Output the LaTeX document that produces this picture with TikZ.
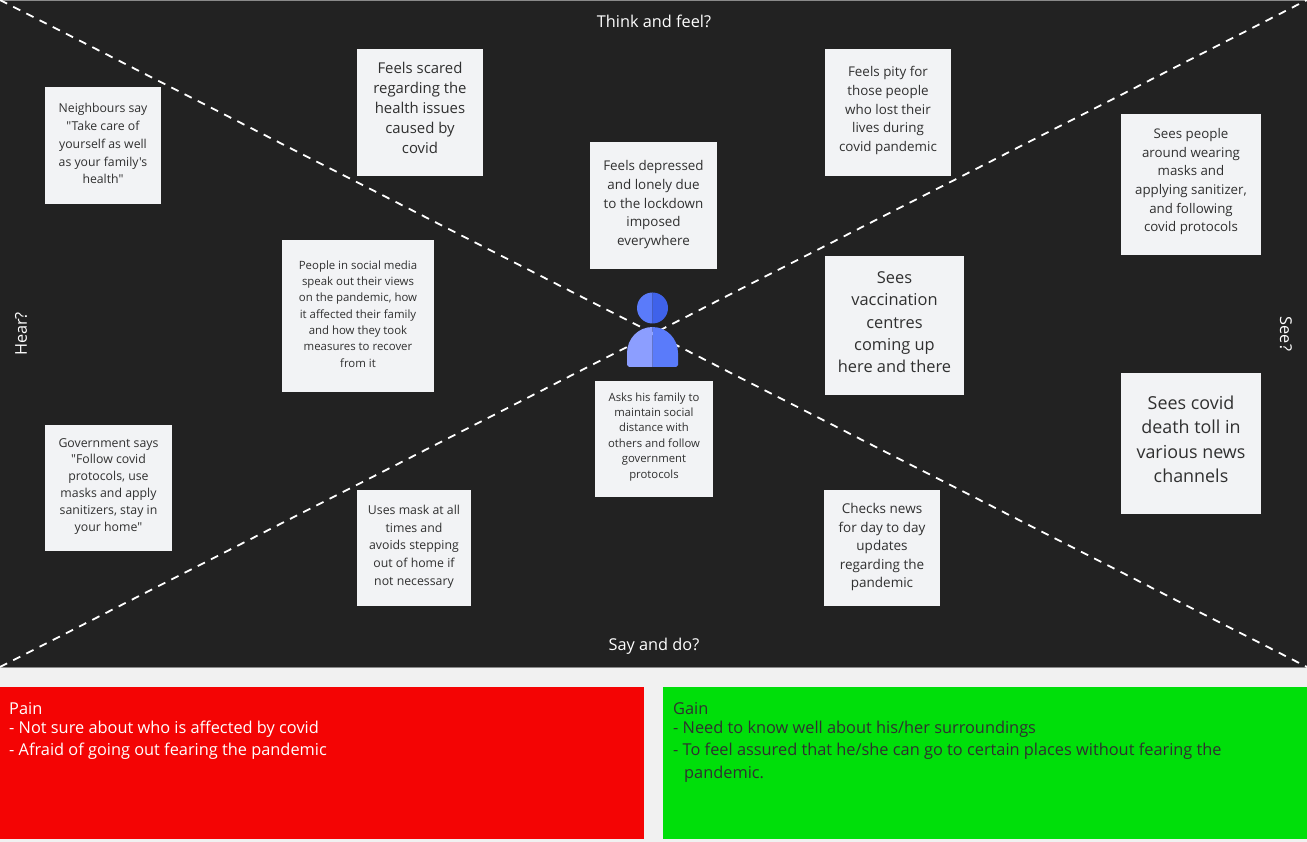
\documentclass[tikz,border=0pt]{standalone}
\usepackage{fontspec}
\setmainfont{Open Sans}[Ligatures=TeXOff]
\definecolor{board}{HTML}{222222}
\definecolor{edge}{HTML}{8A8A8A}
\definecolor{page}{HTML}{F1F1F1}
\definecolor{note}{HTML}{F2F3F5}
\definecolor{notetext}{HTML}{303030}
\definecolor{painred}{HTML}{F40404}
\definecolor{gaingreen}{HTML}{00DF0A}
\definecolor{headl}{HTML}{5A7BFA}
\definecolor{headr}{HTML}{3F62EA}
\definecolor{bodyl}{HTML}{8C9EFF}
\definecolor{bodyr}{HTML}{5A7BFA}
\tikzset{
  sticky/.style={fill=note,text=notetext,align=center,inner sep=0pt,anchor=center},
  fs/.style 2 args={font=\fontsize{#1}{#2}\selectfont},
  axislabel/.style={text=white,font=\fontsize{16.3}{18}\selectfont,inner sep=0pt},
  diag/.style={white,line width=1.8pt,dash pattern=on 8pt off 6.8pt},
  banner/.style={anchor=north west,align=left,inner sep=0pt,font=\fontsize{16.35}{22.5}\selectfont},
}
\begin{document}
\begin{tikzpicture}[x=1pt,y=-1pt]
\useasboundingbox (0,0) rectangle (1307,842);
\fill[page] (0,0) rectangle (1307,842);
\filldraw[fill=board,draw=edge,line width=0.8pt] (-1,0) rectangle (1308,667);
\coordinate (tl) at (0,0);
\coordinate (tr) at (1307,0);
\coordinate (bl) at (0,667);
\coordinate (br) at (1307,667);
\draw[diag] (tl) -- (br);
\draw[diag] (bl) -- (tr);

\node[axislabel] (think) at (654,21) {Think and feel?};
\node[axislabel] (say) at (654,646.5) {Say and do?};
\node[axislabel,rotate=90] (hear) at (21,334) {Hear?};
\node[axislabel,rotate=-90] (see) at (1286,334) {See?};

% person
\fill[headl] (652.5,323.5) arc[start angle=90,end angle=270,radius=15.5] -- cycle;
\fill[headr] (652.5,323.5) arc[start angle=90,end angle=-90,radius=15.5] -- cycle;
\fill[bodyl] (652.5,327) .. controls (638,327) and (627,339) .. (627,353) -- (627,365) -- (629,367) -- (652.5,367) -- cycle;
\fill[bodyr] (652.5,327) .. controls (667,327) and (678,339) .. (678,353) -- (678,365) -- (676,367) -- (652.5,367) -- cycle;

% sticky notes
\node[sticky,fs={12.25}{17.7},minimum width=116pt,minimum height=117pt] (n1) at (103,145.5) {Neighbours say\\"Take care of\\yourself as well\\as your family's\\health"\\[-14pt]};
\node[sticky,fs={14.9}{20},minimum width=126pt,minimum height=127pt] (n2) at (420,112.5) {Feels scared\\regarding the\\health issues\\caused by\\covid\\[-10pt]};
\node[sticky,fs={13.4}{18.7},minimum width=126pt,minimum height=127pt] (n3) at (888,112.5) {Feels pity for\\those people\\who lost their\\lives during\\covid pandemic\\[-12pt]};
\node[sticky,fs={13.4}{18.8},minimum width=127pt,minimum height=127pt] (n4) at (653.5,205.5) {Feels depressed\\and lonely due\\to the lockdown\\imposed\\everywhere\\[-14pt]};
\node[sticky,fs={13.3}{18.6},minimum width=140pt,minimum height=141pt] (n5) at (1191,184.5) {Sees people\\around wearing\\masks and\\applying sanitizer,\\and following\\covid protocols\\[-10pt]};
\node[sticky,fs={16.4}{22.3},minimum width=139pt,minimum height=139pt] (n6) at (894.5,325.5) {Sees\\vaccination\\centres\\coming up\\here and there\\[-16pt]};
\node[sticky,fs={17.9}{24.5},minimum width=140pt,minimum height=141pt] (n7) at (1191,443.5) {Sees covid\\death toll in\\various news\\channels\\[-16pt]};
\node[sticky,fs={11.4}{16.3},minimum width=152pt,minimum height=152pt] (n8) at (358,316) {People in social media\\speak out their views\\on the pandemic, how\\it affected their family\\and how they took\\measures to recover\\from it\\[-12pt]};
\node[sticky,fs={12.3}{16.8},minimum width=127pt,minimum height=126pt] (n9) at (108.5,488) {Government says\\"Follow covid\\protocols, use\\masks and apply\\sanitizers, stay in\\your home"\\[-10pt]};
\node[sticky,fs={12.3}{17.6},minimum width=114pt,minimum height=116pt] (n10) at (414,548) {Uses mask at all\\times and\\avoids stepping\\out of home if\\not necessary\\[-12pt]};
\node[sticky,fs={11.3}{15.4},minimum width=118pt,minimum height=116pt] (n11) at (654,439) {Asks his family to\\maintain social\\distance with\\others and follow\\government\\protocols\\[-8pt]};
\node[sticky,fs={13.5}{18.5},minimum width=116pt,minimum height=116pt] (n12) at (882,548) {Checks news\\for day to day\\updates\\regarding the\\pandemic\\[-14pt]};

% banners
\fill[painred] (0,687) rectangle (644,839);
\fill[gaingreen] (663,687) rectangle (1307,839);
\node[banner,text=white] (pain) at (9,702) {Pain\\[-3.5pt]- Not sure about who is affected by covid\\- Afraid of going out fearing the pandemic};
\node[banner,text=notetext] (gain) at (673,702) {Gain\\[-3.5pt]- Need to know well about his/her surroundings\\- To feel assured that he/she can go to certain places without fearing the\\\hspace*{11pt}pandemic.};
\end{tikzpicture}
\end{document}
